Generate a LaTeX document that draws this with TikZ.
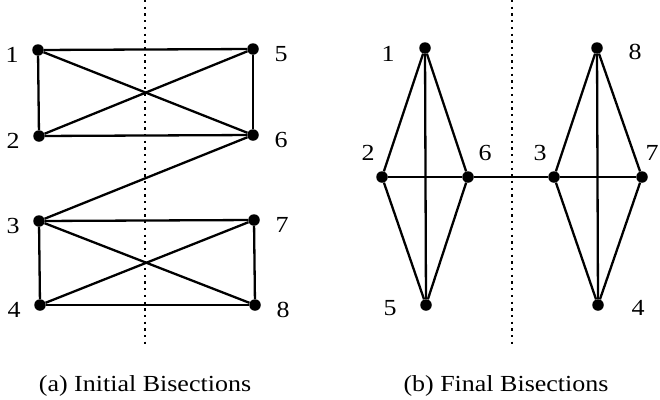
\documentclass[tikz,border=0pt]{standalone}
\usepackage{fontspec}
\setmainfont{Liberation Serif}[FakeStretch=1.13]
\begin{document}
\begin{tikzpicture}[
    x=1pt, y=-1pt,
    font=\fontsize{23}{26}\selectfont,
    vert/.style={circle, fill=black, minimum size=11.5pt, inner sep=0pt},
    edge/.style={black, line width=2.3pt},
    cut/.style={black, line width=2.3pt, dash pattern=on 2.3pt off 4.4pt},
    lab/.style={inner sep=0pt},
    capt/.style={anchor=base},
]
\useasboundingbox (0,0) rectangle (660,399);

% ---- (a) initial bisections ----
\draw[cut] (145,0) -- (145,345);
\foreach \n/\x/\y in {1/38/50, 2/39/136, 3/39/221, 4/40/305,
                      5/253/49, 6/253/135, 7/254/220, 8/255/305} {
    \node[vert] (A\n) at (\x,\y) {};
}
\foreach \a/\b in {1/5, 1/2, 5/6, 2/6, 1/6, 2/5, 6/3,
                   3/7, 3/4, 7/8, 4/8, 3/8, 4/7} {
    \draw[edge] (A\a) -- (A\b);
}
\foreach \n in {1,...,4} {
    \node[lab] (lA\n) at ([xshift=-26pt, yshift=-5pt]A\n) {\n};
}
\foreach \n in {5,...,8} {
    \node[lab] (lA\n) at ([xshift=28pt, yshift=-5pt]A\n) {\n};
}
\node[capt] (capA) at (145,391) {(a) Initial Bisections};

% ---- (b) final bisections ----
\draw[cut] (512,0) -- (512,345);
\foreach \n/\x/\y in {1/425/48, 2/382/177, 6/468/177, 5/426/305,
                      3/554/177, 7/642/177, 8/597/48, 4/598/305} {
    \node[vert] (B\n) at (\x,\y) {};
}
\foreach \a/\b in {1/2, 1/6, 1/5, 2/6, 2/5, 6/5, 6/3,
                   3/7, 3/8, 8/7, 8/4, 3/4, 7/4} {
    \draw[edge] (B\a) -- (B\b);
}
\node[lab] (lB1) at ([xshift=-37pt, yshift=-6pt]B1) {1};
\node[lab] (lB5) at ([xshift=-36pt, yshift=-3pt]B5) {5};
\node[lab] (lB8) at ([xshift=38pt, yshift=-4pt]B8) {8};
\node[lab] (lB4) at ([xshift=40pt, yshift=-3pt]B4) {4};
\node[lab] (lB2) at ([xshift=-14pt, yshift=24pt]B2) {2};
\node[lab] (lB6) at ([xshift=17pt, yshift=24pt]B6) {6};
\node[lab] (lB3) at ([xshift=-14pt, yshift=24pt]B3) {3};
\node[lab] (lB7) at ([xshift=10pt, yshift=24pt]B7) {7};
\node[capt] (capB) at (506,391) {(b) Final Bisections};
\end{tikzpicture}
\end{document}
